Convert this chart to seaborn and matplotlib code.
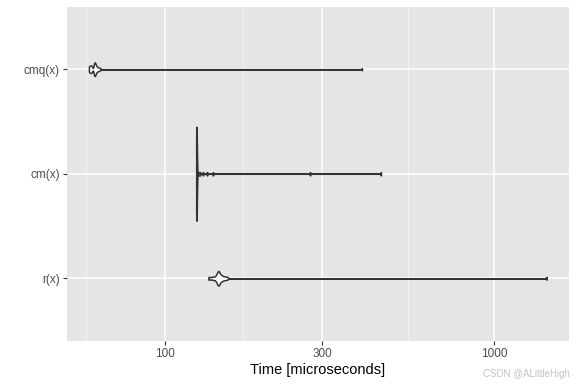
import numpy as np
import pandas as pd
import matplotlib
matplotlib.use("Agg")
import matplotlib.pyplot as plt
import seaborn as sns
from matplotlib.ticker import FixedLocator, NullFormatter

# ---- data (microseconds) ----
categories = ["cmq(x)", "cm(x)", "r(x)"]

cmq_times = [58.75, 58.92, 59.08, 59.25, 59.41, 59.58, 59.75, 59.91, 60.08,
             60.76, 60.84, 60.93, 61.01, 61.10, 61.18, 61.27, 61.36, 61.44, 61.53,
             61.70, 61.87, 62.09, 62.35, 62.66, 63.01, 63.45, 397.0]

cm_times = [124.45, 124.50, 124.55, 124.60, 124.60, 124.65, 124.65, 124.70, 124.70, 124.70,
            124.70, 124.75, 124.75, 124.75, 124.80, 124.80, 124.80, 124.85, 124.85, 124.90,
            124.60, 124.65, 124.70, 124.75, 124.80, 124.70, 124.65, 124.75, 124.70, 124.70,
            126.86, 127.76, 130.48, 134.19, 139.96, 275.9, 453.4]

r_times = [135.60, 137.51, 139.45, 140.92,
           142.41, 143.21, 143.81, 144.32, 144.72, 145.03, 145.33, 145.64, 145.94,
           146.35, 146.87, 147.48, 148.21, 149.04, 150.09, 151.35, 152.85, 154.57,
           1446.0]

x_ticks = [100, 300, 1000]
x_tick_labels = ["100", "300", "1000"]
x_minor = [57.7, 173.2, 547.7]
x_label = "Time [microseconds]"

df = pd.DataFrame({
    "expr": ["cmq(x)"] * len(cmq_times) + ["cm(x)"] * len(cm_times) + ["r(x)"] * len(r_times),
    "time": cmq_times + cm_times + r_times,
})

# ---- style ----
plt.rcParams["font.family"] = ["Liberation Sans", "DejaVu Sans"]

fig = plt.figure(figsize=(5.76, 3.84), dpi=100)
ax = fig.add_axes([67 / 576, 1 - 341 / 384, (569 - 67) / 576, (341 - 6.5) / 384])
ax.set_facecolor("#E5E5E5")
ax.set_xscale("log")

# per-violin width (fraction of category spacing) and kde bandwidth (pixels on log axis)
style = {"cmq(x)": (0.13, 0.6), "cm(x)": (0.9, 0.4), "r(x)": (0.14, 0.8)}
px_per_decade = 329.0

for cat in categories:
    sub = df[df["expr"] == cat]
    w, bw_px = style[cat]
    lg = np.log10(sub["time"].to_numpy())
    factor = (bw_px / px_per_decade) / lg.std(ddof=1)
    sns.violinplot(data=sub, x="time", y="expr", order=categories, orient="h",
                   density_norm="width", width=w, cut=0, inner=None,
                   bw_method=factor, gridsize=4000, color="white",
                   linecolor="#333333", linewidth=1.1, saturation=1, ax=ax)

for coll in ax.collections:
    coll.set_zorder(3)

ax.set_xlim(50.4, 1690)
ax.set_ylim(2.6, -0.6)

ax.xaxis.set_major_locator(FixedLocator(x_ticks))
ax.set_xticklabels(x_tick_labels)
ax.xaxis.set_minor_locator(FixedLocator(x_minor))
ax.xaxis.set_minor_formatter(NullFormatter())

ax.set_axisbelow(True)
ax.grid(True, which="major", axis="both", color="white", linewidth=1.1)
ax.grid(True, which="minor", axis="x", color="#F4F4F4", linewidth=0.6)

for s in ax.spines.values():
    s.set_visible(False)

ax.tick_params(axis="both", which="major", length=3, width=0.8, color="#333333",
               labelcolor="#4D4D4D", labelsize=8.5, pad=2)
ax.tick_params(axis="x", which="minor", length=0)

ax.set_xlabel(x_label, fontsize=10.5, color="black", labelpad=2)
ax.set_ylabel("")

fig.text(0.99, 0.025, "CSDN @ALittleHigh", ha="right", va="center",
         fontsize=7, color="#C4C4C4")

fig.savefig("out.png", dpi=100)
